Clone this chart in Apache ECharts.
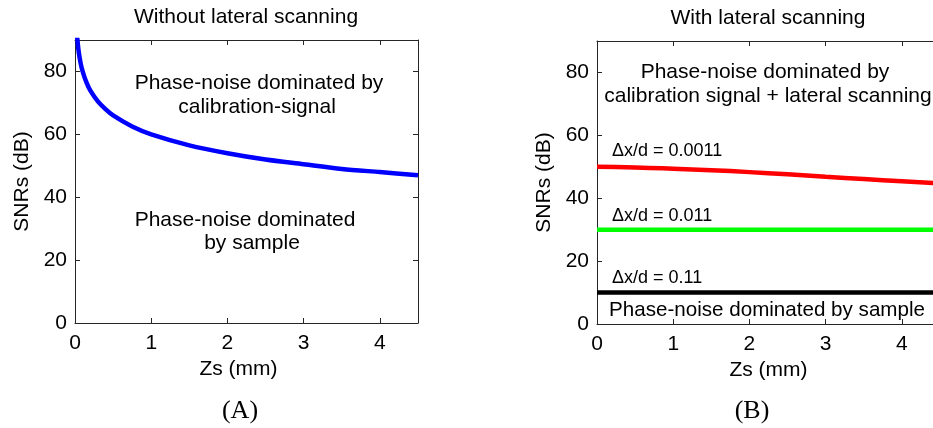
<!DOCTYPE html>
<html>
<head>
<meta charset="utf-8">
<script src="https://cdn.jsdelivr.net/npm/echarts@6/dist/echarts.min.js"></script>
<style>
html,body{margin:0;padding:0;background:#fff;}
#chart{width:933px;height:428px;}
</style>
</head>
<body>
<div id="chart"></div>
<script>
// ---- data ----
var zsA = [0.02, 0.03, 0.05, 0.075, 0.1, 0.15, 0.2, 0.3, 0.4, 0.5, 0.75, 1, 1.5, 2, 2.5, 3, 3.5, 4, 4.5];
var snrNoScan = [94, 90.5, 86, 82.5, 80, 76.5, 74, 70.5, 68, 66, 62.5, 60, 56.5, 54, 52, 50.5, 49, 48, 47];
var zsB = [0, 0.5, 1, 1.5, 2, 2.5, 3, 3.5, 4, 4.5];
var snrDx00011 = [50, 49.8, 49.4, 48.9, 48.3, 47.6, 46.8, 46.1, 45.4, 44.7];
var snrDx0011 = [30, 30, 30, 30, 30, 30, 30, 30, 30, 30];
var snrDx011 = [10, 10, 10, 10, 10, 10, 10, 10, 10, 10];
var xTicks = [0, 1, 2, 3, 4];
var yTicks = [0, 20, 40, 60, 80];

function pairs(xs, ys){ return xs.map(function(x,i){ return [x, ys[i]]; }); }

var FONT = 'Liberation Sans, Arial, sans-serif';
var AX = '#262626';

function xAxisPair(gi, pad){
  return [{
    type:'value', gridIndex:gi, min:0, max:4.5, interval:1, position:'bottom',
    name:'Zs (mm)', nameLocation:'middle', nameGap:35,
    nameTextStyle:{fontFamily:FONT, fontSize:21, color:'#000', padding:pad},
    axisLine:{onZero:false, lineStyle:{color:AX, width:1}},
    axisTick:{inside:true, length:5, lineStyle:{color:AX}},
    axisLabel:{fontFamily:FONT, fontSize:21, color:'#000', margin:10,
      formatter:function(v){ return xTicks.indexOf(v) >= 0 ? String(v) : ''; }},
    splitLine:{show:false}
  },{
    type:'value', gridIndex:gi, min:0, max:4.5, interval:1, position:'top',
    axisLine:{onZero:false, lineStyle:{color:AX, width:1}},
    axisTick:{inside:true, length:5, lineStyle:{color:AX}},
    axisLabel:{show:false}, splitLine:{show:false}
  }];
}
function yAxisPair(gi){
  return [{
    type:'value', gridIndex:gi, min:0, max:90, interval:20, position:'left',
    name:'SNRs (dB)', nameLocation:'middle', nameGap:42,
    nameTextStyle:{fontFamily:FONT, fontSize:21, color:'#000'},
    axisLine:{onZero:false, lineStyle:{color:AX, width:1}},
    axisTick:{inside:true, length:5, lineStyle:{color:AX}},
    axisLabel:{fontFamily:FONT, fontSize:21, color:'#000', margin:8,
      formatter:function(v){ return yTicks.indexOf(v) >= 0 ? String(v) : ''; }},
    splitLine:{show:false}
  },{
    type:'value', gridIndex:gi, min:0, max:90, interval:20, position:'right',
    axisLine:{onZero:false, lineStyle:{color:AX, width:1}},
    axisTick:{inside:true, length:5, lineStyle:{color:AX}},
    axisLabel:{show:false}, splitLine:{show:false}
  }];
}

function txt(x, y, s, opts){
  opts = opts || {};
  return {type:'text', x:x, y:y, silent:true,
    style:{text:s, fontFamily:opts.family || FONT, fontSize:opts.size || 21,
      fill:'#000', align:opts.align || 'center', verticalAlign:'middle'}};
}

var chart = echarts.init(document.getElementById('chart'), null, {renderer:'canvas'});
chart.setOption({
  animation:false,
  backgroundColor:'#fff',
  grid:[
    {left:75, top:40, width:343, height:283, outerBoundsMode:'none'},
    {left:597, top:41, width:343, height:283, outerBoundsMode:'none'}
  ],
  xAxis: xAxisPair(0, [0,16,0,0]).concat(xAxisPair(1, [0,0,0,0])),
  yAxis: yAxisPair(0).concat(yAxisPair(1)),
  series:[
    {type:'line', xAxisIndex:0, yAxisIndex:0, data:pairs(zsA, snrNoScan), smooth:0.3,
      showSymbol:false, clip:true, lineStyle:{color:'#0000ff', width:4.5}},
    {type:'line', xAxisIndex:2, yAxisIndex:2, data:pairs(zsB, snrDx00011), smooth:true,
      showSymbol:false, clip:true, lineStyle:{color:'#ff0000', width:4.5}},
    {type:'line', xAxisIndex:2, yAxisIndex:2, data:pairs(zsB, snrDx0011),
      showSymbol:false, clip:true, lineStyle:{color:'#00ff00', width:4.5}},
    {type:'line', xAxisIndex:2, yAxisIndex:2, data:pairs(zsB, snrDx011),
      showSymbol:false, clip:true, lineStyle:{color:'#000000', width:4.5}}
  ],
  graphic:[
    txt(246, 17, 'Without lateral scanning'),
    txt(768, 18, 'With lateral scanning'),
    txt(259, 83, 'Phase-noise dominated by'),
    txt(257, 107, 'calibration-signal'),
    txt(245, 220, 'Phase-noise dominated'),
    txt(252, 243, 'by sample'),
    txt(765, 72, 'Phase-noise dominated by'),
    txt(768, 96, 'calibration signal + lateral scanning'),
    txt(612, 151, 'Δx/d = 0.0011', {align:'left', size:18}),
    txt(612, 216, 'Δx/d = 0.011', {align:'left', size:18}),
    txt(612, 278, 'Δx/d = 0.11', {align:'left', size:18}),
    txt(767, 310, 'Phase-noise dominated by sample', {size:20.6}),
    txt(240, 411, '(A)', {family:'Liberation Serif, Times New Roman, serif', size:26}),
    txt(752, 411, '(B)', {family:'Liberation Serif, Times New Roman, serif', size:26})
  ]
});
</script>
</body>
</html>
